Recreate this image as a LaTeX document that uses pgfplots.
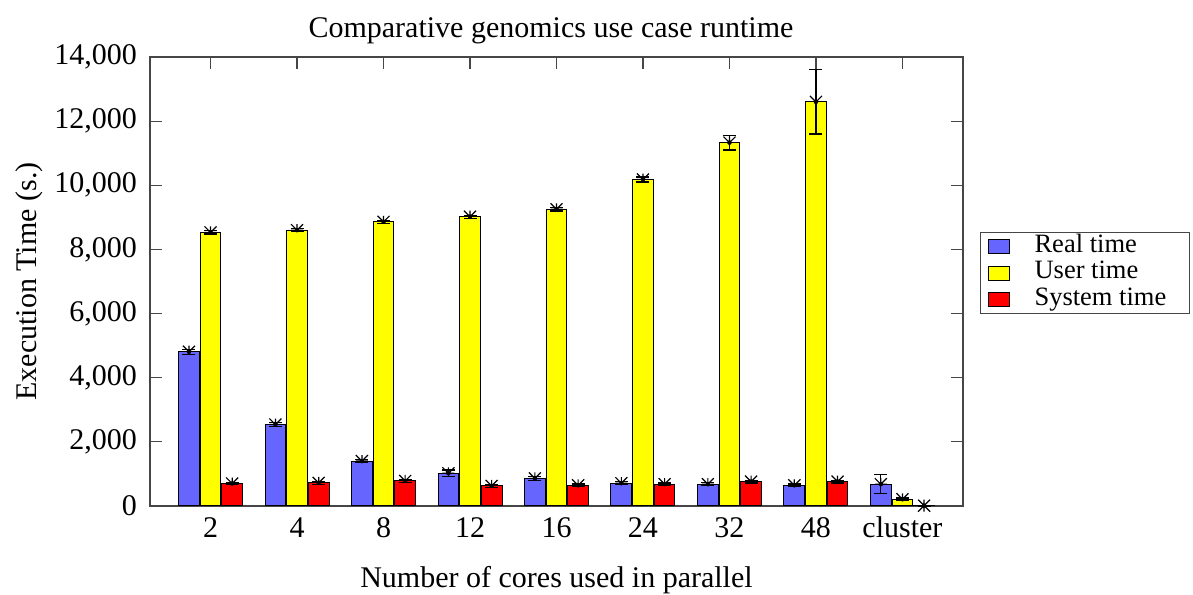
\documentclass[border=0pt]{standalone}
\usepackage{pgfplots}
\pgfplotsset{compat=1.18}
\usepackage{pgfplotstable}
\usepackage{fontspec}
\setmainfont{Liberation Serif}
\definecolor{realc}{RGB}{102,102,255}
\definecolor{userc}{RGB}{255,255,0}
\definecolor{sysc}{RGB}{255,0,0}
\definecolor{axc}{RGB}{70,70,70}

\pgfdeclareplotmark{gpstar}{%
 \pgfpathmoveto{\pgfqpoint{-\pgfplotmarksize}{0pt}}\pgfpathlineto{\pgfqpoint{\pgfplotmarksize}{0pt}}%
 \pgfpathmoveto{\pgfqpoint{0pt}{-\pgfplotmarksize}}\pgfpathlineto{\pgfqpoint{0pt}{\pgfplotmarksize}}%
 \pgfpathmoveto{\pgfqpoint{-\pgfplotmarksize}{-\pgfplotmarksize}}\pgfpathlineto{\pgfqpoint{\pgfplotmarksize}{\pgfplotmarksize}}%
 \pgfpathmoveto{\pgfqpoint{-\pgfplotmarksize}{\pgfplotmarksize}}\pgfpathlineto{\pgfqpoint{\pgfplotmarksize}{-\pgfplotmarksize}}%
 \pgfusepathqstroke}

\pgfplotstableread{
x y e
0 4810 80
1 2540 60
2 1400 50
3 1020 100
4 860 70
5 710 50
6 680 50
7 645 40
8 680 300
}\realtab
\pgfplotstableread{
x y e
0 8530 50
1 8600 50
2 8860 50
3 9020 50
4 9250 50
5 10180 80
6 11330 230
7 12600 1000
8 210 40
}\usertab
\pgfplotstableread{
x y e
0 700 40
1 720 40
2 780 40
3 625 40
4 645 40
5 680 40
6 760 40
7 760 40
8 10 10
}\systab

\pgfplotsset{
  starmarks/.style={forget plot, only marks, mark=gpstar, mark size=6pt, mark options={line width=1.2pt, black}},
  errbars/.style={forget plot, only marks, mark=none,
    error bars/.cd, y dir=both, y explicit,
    error bar style={draw=black, solid, line width=1.2pt},
    error mark options={draw=black, solid, rotate=90, mark size=6.5pt, line width=1.2pt}},
}

\begin{document}
\begin{tikzpicture}
\useasboundingbox (0,0) rectangle (1193pt,594pt);
\begin{axis}[
  at={(150pt,88pt)}, anchor=south west,
  scale only axis, width=813pt, height=449pt,
  clip=false, clip marker paths=true,
  xmin=-0.7, xmax=8.7, ymin=0, ymax=14000,
  xtick={0,...,8},
  xticklabels={2,4,8,12,16,24,32,48,cluster},
  ytick={0,2000,...,14000},
  scaled y ticks=false,
  tick align=inside,
  major tick length=12pt,
  tick style={axc, line width=1.2pt},
  axis line style={axc, line width=1.3pt},
  yticklabel style={/pgf/number format/.cd, assume math mode=true, fixed, 1000 sep={,},
     /tikz/.cd, anchor=east, inner sep=0pt, xshift=-13pt, font=\fontsize{30}{35}\selectfont},
  xticklabel style={anchor=base, inner sep=0pt, yshift=-31pt, font=\fontsize{30}{35}\selectfont},
  title={Comparative genomics use case runtime},
  title style={at={(axis description cs:0.4932,1.031)}, anchor=base, inner sep=0pt, font=\fontsize{30}{35}\selectfont},
  xlabel={Number of cores used in parallel},
  xlabel style={at={(axis description cs:0.5,-0.1826)}, anchor=base, inner sep=0pt, font=\fontsize{30}{35}\selectfont},
  ylabel={Execution Time (s.)},
  ylabel style={at={(axis description cs:-0.1402,0.5)}, anchor=base, inner sep=0pt, font=\fontsize{30}{35}\selectfont},
  legend style={at={(axis description cs:1.021,0.610)}, anchor=north west,
     draw=axc, line width=1pt, inner xsep=0pt, inner ysep=1pt,
     font=\fontsize{26.5}{30}\selectfont,
     nodes={inner sep=0pt, text height=18.5pt, text depth=7.5pt},
     row sep=0.5pt,
     /tikz/every odd column/.append style={column sep=25pt}},
  legend cell align=left,
]
% asterisk markers (drawn behind the bars)
\addplot[starmarks] table[x expr=\thisrow{x}-0.25, y=y]{\realtab};
\addplot[starmarks] table[x=x, y=y]{\usertab};
\addplot[starmarks] table[x expr=\thisrow{x}+0.25, y=y]{\systab};
% bars
\addplot[ybar, bar width=0.24, bar shift=-0.25, fill=realc, draw=black, line width=1pt,
  legend image code/.code={\path (0pt,0pt); \draw[fill=realc, draw=black, line width=1pt] (7pt,-7pt) rectangle (28pt,7pt);}]
  table[x=x, y=y]{\realtab};
\addlegendentry{\makebox[155pt][l]{Real time}}
\addplot[ybar, bar width=0.24, bar shift=0, fill=userc, draw=black, line width=1pt,
  legend image code/.code={\path (0pt,0pt); \draw[fill=userc, draw=black, line width=1pt] (7pt,-7pt) rectangle (28pt,7pt);}]
  table[x=x, y=y]{\usertab};
\addlegendentry{\makebox[155pt][l]{User time}}
\addplot[ybar, bar width=0.24, bar shift=0.25, fill=sysc, draw=black, line width=1pt,
  legend image code/.code={\path (0pt,0pt); \draw[fill=sysc, draw=black, line width=1pt] (7pt,-7pt) rectangle (28pt,7pt);}]
  table[x=x, y=y]{\systab};
\addlegendentry{\makebox[155pt][l]{System time}}
% error bars (on top of the bars)
\addplot[errbars] table[x expr=\thisrow{x}-0.25, y=y, y error=e]{\realtab};
\addplot[errbars] table[x=x, y=y, y error=e]{\usertab};
\addplot[errbars] table[x expr=\thisrow{x}+0.25, y=y, y error=e]{\systab};
\end{axis}
\end{tikzpicture}
\end{document}
